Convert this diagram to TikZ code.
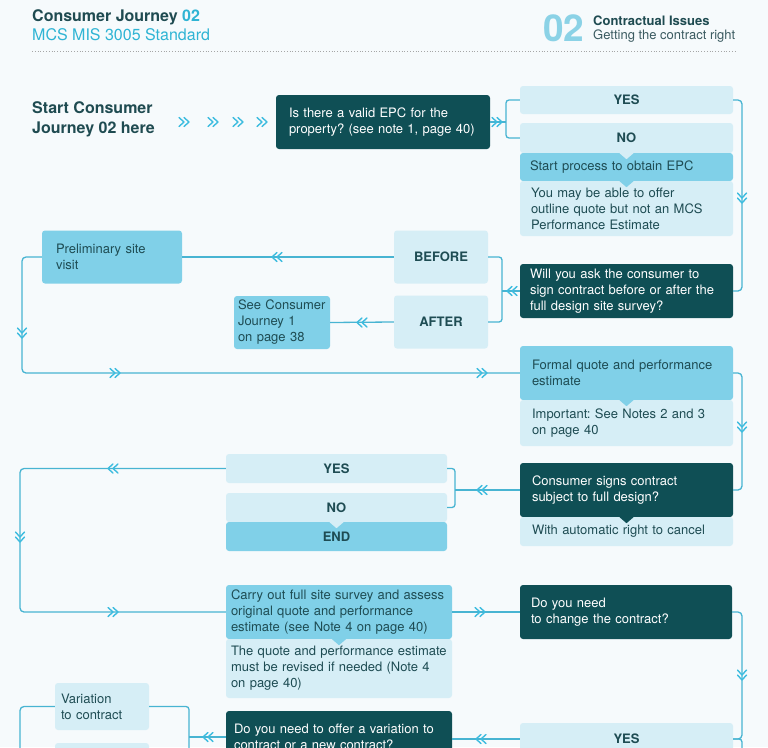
\documentclass[tikz,border=0pt]{standalone}
\usepackage{fontspec}
\setmainfont{TeX Gyre Heros}
\hyphenpenalty=10000
\exhyphenpenalty=10000
\frenchspacing
\definecolor{bg}{HTML}{F6FAFC}
\definecolor{dark}{HTML}{0F4F55}
\definecolor{light}{HTML}{D6EEF6}
\definecolor{mid}{HTML}{80D0E8}
\definecolor{ln}{HTML}{48B4D2}
\definecolor{chevc}{HTML}{3DBCDF}
\definecolor{txt}{HTML}{1E4C53}
\definecolor{head}{HTML}{1F4B51}
\definecolor{sub}{HTML}{3A5A60}
\definecolor{cyantwo}{HTML}{2FB4D4}
\definecolor{bigtwo}{HTML}{8BD2E6}
\begin{document}
\begin{tikzpicture}[x=1pt,y=-1pt,
  bx/.style={rectangle, rounded corners=3pt, inner ysep=0pt, align=left, font=\fontsize{13}{16}\selectfont\frenchspacing, text=txt},
  dk/.style={bx, fill=dark, text=white},
  lt/.style={bx, fill=light},
  md/.style={bx, fill=mid},
  lbl/.style={font=\fontsize{13}{16}\selectfont\bfseries, align=center},
  conn/.style={draw=ln, line width=1.3pt, rounded corners=4pt},
  chev/.pic={\draw[chevc, line width=1.4pt, line cap=round, line join=round] (-5,-4.5)--(0,0)--(-5,4.5) (0,-4.5)--(5,0)--(0,4.5);}
]
\useasboundingbox (0,0) rectangle (768,747);
\fill[bg] (0,0) rectangle (768,747);
\clip (0,0) rectangle (768,747);

% header
\node[anchor=west, inner sep=0, font=\fontsize{16}{19}\selectfont\bfseries, text=head] (t1) at (32,17) {Consumer Journey {\color{cyantwo}02}};
\node[anchor=west, inner sep=0, font=\fontsize{16}{19}\selectfont, text=cyantwo] (t2) at (32,35) {MCS MIS 3005 Standard};
\draw[dotted, draw=gray!70, line width=0.8pt] (32,51) -- (736,51);
\node[anchor=west, inner sep=0, font=\fontsize{37}{37}\selectfont\bfseries, text=bigtwo] (big) at (543,28) {02};
\node[anchor=west, inner sep=0, font=\fontsize{13}{15}\selectfont\bfseries, text=head] (t3) at (593,21) {Contractual Issues};
\node[anchor=west, inner sep=0, font=\fontsize{13}{15}\selectfont, text=sub] (t4) at (593,36.5) {Getting the contract right};

% start
\node[anchor=west, inner sep=0, align=left, font=\fontsize{16}{20}\selectfont\bfseries, text=head] (start) at (32,119) {Start Consumer\\Journey 02 here};
\foreach \x in {184,213,238,262} \pic at (\x,122) {chev};

% boxes
\node[dk, minimum width=214pt, minimum height=54pt, inner xsep=13pt, text width=188pt] (epc) at (383,122) {Is there a valid EPC for the\\property? (see note 1, page 40)};
\node[lt, lbl, minimum width=213pt, minimum height=28pt, text width=193pt] (yes1) at (626.5,100) {YES};
\node[lt, lbl, minimum width=213pt, minimum height=30pt, text width=193pt] (no1) at (626.5,138) {NO};
\node[md, minimum width=213pt, minimum height=28pt, inner xsep=10pt, text width=193pt] (obtain) at (626.5,167) {Start process to obtain EPC};
\node[lt, minimum width=213pt, minimum height=55pt, inner xsep=11pt, text width=191pt] (maybe) at (626.5,208.5) {You may be able to offer\\outline quote but not an MCS\\Performance Estimate};
\node[dk, minimum width=213pt, minimum height=54pt, inner xsep=10pt, text width=193pt] (will) at (626.5,291) {Will you ask the consumer to\\sign contract before or after the\\full design site survey?};
\node[lt, lbl, minimum width=94pt, minimum height=53pt, text width=80pt] (before) at (441,257) {BEFORE};
\node[lt, lbl, minimum width=94pt, minimum height=53pt, text width=80pt] (after) at (441,322) {AFTER};
\node[md, minimum width=140pt, minimum height=53pt, inner xsep=14pt, text width=112pt] (prelim) at (112,257) {Preliminary site\\visit};
\node[md, minimum width=96pt, minimum height=53pt, inner xsep=4pt, text width=88pt] (seecj) at (282,322.5) {See Consumer\\Journey 1\\on page 38};
\node[md, minimum width=213pt, minimum height=54pt, inner xsep=12pt, text width=189pt] (formal) at (626.5,373) {Formal quote and performance\\estimate};
\node[lt, minimum width=213pt, minimum height=46pt, inner xsep=12pt, text width=189pt] (important) at (626.5,423) {Important: See Notes 2 and 3\\on page 40};
\node[dk, minimum width=213pt, minimum height=54pt, inner xsep=12pt, text width=189pt] (signs) at (626.5,490) {Consumer signs contract\\subject to full design?};
\node[lt, minimum width=213pt, minimum height=29pt, inner xsep=12pt, text width=189pt] (auto) at (626.5,531.5) {With automatic right to cancel};
\node[lt, lbl, minimum width=221pt, minimum height=29pt, text width=200pt] (yes2) at (336.5,468.5) {YES};
\node[lt, lbl, minimum width=221pt, minimum height=29pt, text width=200pt] (no2) at (336.5,507.5) {NO};
\node[md, lbl, minimum width=221pt, minimum height=29pt, text width=200pt] (end) at (336.5,536.5) {END};
\node[md, minimum width=226pt, minimum height=54pt, inner xsep=5pt, text width=216pt] (carry) at (339,612) {Carry out full site survey and assess\\original quote and performance\\estimate (see Note 4 on page 40)};
\node[lt, minimum width=226pt, minimum height=59pt, inner xsep=5pt, text width=216pt] (revised) at (339,668.5) {The quote and performance estimate\\must be revised if needed (Note 4\\on page 40)};
\node[dk, minimum width=212pt, minimum height=54pt, inner xsep=11pt, text width=190pt] (change) at (626,612) {Do you need\\to change the contract?};
\node[lt, lbl, minimum width=213pt, minimum height=32pt, text width=193pt] (yes3) at (626.5,739) {YES};
\node[dk, minimum width=226pt, minimum height=52pt, inner xsep=8pt, text width=210pt] (offer) at (339,737) {Do you need to offer a variation to\\contract or a new contract?};
\node[lt, minimum width=94pt, minimum height=47pt, inner xsep=6pt, text width=82pt] (variation) at (102,706.5) {Variation\\to contract};
\node[lt, minimum width=94pt, minimum height=47pt] (below) at (102,766.5) {};

% notches
\foreach \n/\c in {no1/light, obtain/mid, formal/mid, signs/dark, no2/light, carry/mid}
  \fill[\c] ([xshift=-7pt]\n.south) -- ([xshift=7pt]\n.south) -- ([yshift=-6pt]\n.south) -- cycle;

% connectors
\draw[conn] (epc.east) -- (506,122);
\draw[conn, rounded corners=3pt] (yes1.west) -| (506,122) |- (no1.west);
\pic at (497,122) {chev};

\draw[conn] (yes1.east) -- (742,100) -- (742,291) -- (will.east);
\pic[rotate=-90] at (742,198) {chev};

\draw[conn] (will.west) -- (502,291);
\draw[conn, rounded corners=3pt] (before.east) -| (502,291) |- (after.east);
\pic[rotate=180] at (512,291) {chev};

\draw[conn] (before.west) -- (prelim.east);
\pic[rotate=180] at (277,257) {chev};
\draw[conn] (after.west) -- (seecj.east);
\pic[rotate=180] at (362,322.5) {chev};

\draw[conn] (prelim.west) -- (22,257) -- (22,373) -- (formal.west);
\pic[rotate=-90] at (22,333) {chev};
\pic at (115,373) {chev};
\pic at (482,373) {chev};

\draw[conn] (formal.east) -- (742,373) -- (742,490) -- (signs.east);
\pic[rotate=-90] at (742,427) {chev};

\draw[conn] (signs.west) -- (455,490);
\draw[conn, rounded corners=3pt] (yes2.east) -| (455,490) |- (no2.east);
\pic[rotate=180] at (482,490) {chev};

\draw[conn] (yes2.west) -- (20,468.5) -- (20,612) -- (carry.west);
\pic[rotate=180] at (113,468.5) {chev};
\pic[rotate=-90] at (20,537) {chev};
\pic at (113,612) {chev};

\draw[conn] (carry.east) -- (change.west);
\pic at (480,612) {chev};

\draw[conn] (change.east) -- (742,612) -- (742,739) -- (yes3.east);
\draw[conn, rounded corners=3pt] (yes3.east) -| (742,770);
\pic[rotate=-90] at (742,675) {chev};

\draw[conn] (yes3.west) -- (offer.east |- yes3.west);
\pic[rotate=180] at (481,739) {chev};

\draw[conn] (offer.west) -- (189,737);
\draw[conn, rounded corners=3pt] (variation.east) -| (189,737) |- (below.east);
\pic[rotate=180] at (208,737) {chev};

\draw[conn] (variation.west) -| (20,770);
\end{tikzpicture}
\end{document}
